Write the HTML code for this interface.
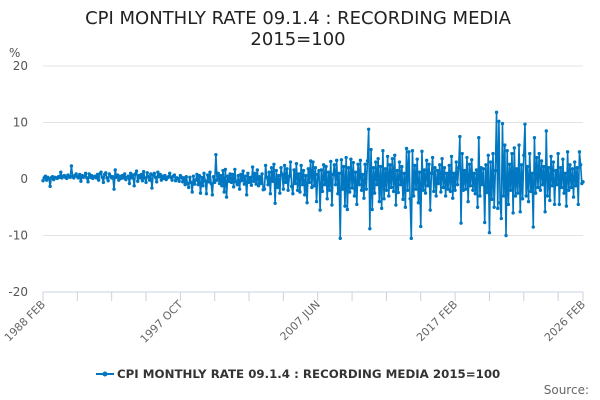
<!DOCTYPE html>
<html><head><meta charset="utf-8"><style>
body{margin:0;background:#fff;font-family:"DejaVu Sans","Liberation Sans",sans-serif}
svg{display:block}
svg text{font-family:"DejaVu Sans","Liberation Sans",sans-serif}
</style></head><body>
<svg id="chart" width="600" height="400">
<text x="298" y="24" text-anchor="middle" font-size="18" fill="#222">CPI MONTHLY RATE 09.1.4 : RECORDING MEDIA</text>
<text x="298" y="45" text-anchor="middle" font-size="18" fill="#222">2015=100</text>
<text x="9" y="57" font-size="12" fill="#555">%</text>
<g id="grid"></g><g id="xaxis"></g><g id="series"></g>
<g>
<line x1="96" y1="374" x2="114" y2="374" stroke="#0077c0" stroke-width="2"/>
<circle cx="105" cy="374" r="2.5" fill="#0077c0"/>
<text x="117" y="378" font-size="11.8" font-weight="bold" fill="#333">CPI MONTHLY RATE 09.1.4 : RECORDING MEDIA 2015=100</text>
</g>
<text x="589" y="394" text-anchor="end" font-size="12" fill="#666">Source:</text>
</svg>
<script>
const yTicks=[20,10,0,-10,-20];
const xLabelIdx=[0,116,232,348,456];
const xLabels=["1988 FEB","1997 OCT","2007 JUN","2017 FEB","2026 FEB"];
const values=[
-0.3,0.2,0.5,-0.2,0.3,0.1,-1.3,0.2,0.4,-0.1,0.3,
0.2,0.1,0.4,0.3,1.2,0.2,0.5,0.6,0.3,0.1,0.7,0.4,
0.3,2.3,0.5,0.2,0.6,0.9,0.4,0.2,0.8,-0.4,0.6,0.3,
0.5,1.0,0.2,-0.5,0.9,0.3,0.6,0.1,0.4,0.5,0.2,0.8,
-0.2,0.9,1.2,0.3,-0.6,0.8,1.1,0.2,-0.3,0.9,0.5,0.2,
0.4,-1.8,1.6,0.3,0.7,-0.2,0.5,0.1,0.6,0.2,0.9,-0.1,
0.3,0.5,-0.8,1.0,0.2,0.7,-1.2,0.9,1.4,-0.4,0.6,0.2,
0.8,-0.3,1.3,0.2,-0.6,1.1,0.4,-0.2,0.9,-1.6,0.7,1.0,
0.3,-0.5,1.2,0.4,0.8,-0.2,0.5,0.1,0.6,-0.1,0.2,0.4,
1.0,0.3,-0.2,0.5,0.7,-0.3,0.2,0.1,-0.4,0.6,0.3,-0.5,
0.2,-1.0,0.4,-0.8,-1.5,0.3,-0.6,-2.3,0.5,-0.9,-0.2,0.8,
-1.0,0.6,-2.5,0.3,-1.2,1.0,-0.4,-2.6,0.7,-0.5,1.2,-0.8,
-2.8,0.4,-0.6,4.3,-0.2,1.0,-0.8,0.6,-1.2,1.5,-2.3,1.7,
-3.2,0.5,-0.4,0.9,-0.6,0.8,-1.4,1.7,-0.5,-1.0,0.6,-1.8,
0.8,-0.3,1.4,-0.9,0.5,-2.8,1.0,-0.6,0.3,-1.1,2.1,-0.4,
1.0,-0.9,1.6,-1.2,0.4,-0.8,0.9,-1.9,-1.8,2.4,0.3,-1.0,
1.2,-2.6,2.0,-0.4,2.6,-4.3,1.5,-1.5,0.6,-2.5,2.0,0.8,
-1.8,2.4,-0.6,1.8,-2.0,0.5,3.0,-1.3,-2.6,1.6,-0.8,2.7,
-2.0,0.9,-2.3,2.4,-1.0,1.5,-2.8,0.6,-4.2,1.8,-0.6,3.2,
-1.5,3.0,-1.2,2.0,-4.0,0.8,1.5,-5.5,1.6,-2.2,2.5,-1.0,
2.2,-3.5,1.2,-2.0,3.1,-4.6,0.8,2.5,-1.0,3.3,-2.6,1.0,
-10.5,3.4,-1.8,2.2,-4.8,3.8,-5.4,2.0,-2.3,3.5,-1.6,2.9,
-3.0,1.2,-4.5,2.6,-1.0,3.3,-2.0,0.8,-3.4,2.6,-1.8,3.2,
8.8,-8.8,5.2,-5.4,2.0,-2.5,3.0,-1.0,3.6,-4.0,2.2,-5.2,
5.0,-3.5,1.8,-2.0,4.0,-3.0,2.5,-1.5,3.6,-2.2,4.2,-4.6,
1.5,-2.4,3.0,-1.0,2.2,-3.6,1.0,-5.0,5.4,-2.0,4.8,-3.5,
-10.5,5.0,-3.0,2.4,-1.8,3.5,-4.2,1.2,-8.4,4.9,-2.0,1.6,
-2.5,3.3,-1.2,2.6,-5.5,1.0,3.8,-2.2,2.0,-3.0,1.5,-0.8,
2.5,-2.3,3.6,-1.5,2.0,-3.0,1.0,-1.8,2.4,-2.2,4.0,-3.4,
1.0,-2.0,3.0,-1.0,2.0,7.5,-7.8,4.5,-2.0,1.5,-1.8,3.8,
-4.0,2.6,-1.2,3.4,-2.0,1.0,-2.6,1.6,-5.0,7.3,-3.0,2.0,
-1.0,1.8,-7.7,2.5,-2.4,4.2,-9.5,3.0,-3.6,4.5,-5.0,1.5,
11.8,-5.2,10.2,-4.2,-7.0,9.8,-3.0,6.0,-10.0,5.0,-4.5,2.6,
-2.0,4.5,-6.0,5.5,-3.0,1.8,-2.5,6.0,-5.8,2.5,-3.5,4.2,
9.7,-3.0,2.2,-4.0,4.5,-2.2,1.0,-8.5,7.3,-2.5,3.8,-1.5,
4.5,-2.0,3.2,-1.0,2.2,-5.8,8.5,-3.0,2.0,-3.8,4.0,-1.2,
3.0,-4.5,1.5,-1.0,4.5,-4.5,2.0,-1.5,3.5,-2.5,1.0,-4.8,
4.8,-2.0,2.5,-1.5,1.8,-3.2,3.0,-1.2,2.0,-4.5,4.8,2.5,
-0.8,-0.5
];
const NS="http://www.w3.org/2000/svg";
const X0=43,X1=583,Y0=66,Y1=292,YMAX=20,YMIN=-20;
const n=values.length;
function xs(i){return X0+(X1-X0)*i/(n-1);}
function ys(v){return Y0+(YMAX-v)/(YMAX-YMIN)*(Y1-Y0);}
function mk(tag,attrs,parent){const e=document.createElementNS(NS,tag);for(const k in attrs)e.setAttribute(k,attrs[k]);parent.appendChild(e);return e;}
const grid=document.getElementById('grid');
yTicks.forEach(t=>{
  const l=mk('line',{x1:X0,x2:X1,y1:ys(t),y2:ys(t),stroke:t===YMIN?'#c8d2e2':'#e3e3e3','stroke-width':1},grid);
  
  
  const tx=mk('text',{x:X0-15,y:ys(t)+4,'text-anchor':'end','font-size':12,fill:'#555'},grid);
  tx.textContent=t;
  
  
});
const xa=document.getElementById('xaxis');
for(let i=0;i<n;i+=29){
  const t=mk('line',{x1:xs(i),x2:xs(i),y1:Y1,y2:Y1+9,stroke:'#c8d2e2'},xa);
  
  
}
const te=mk('line',{x1:xs(n-1),x2:xs(n-1),y1:Y1,y2:Y1+9,stroke:'#c8d2e2'},xa);


xLabelIdx.forEach((idx,k)=>{
  const x=xs(idx)+3,y=Y1+13;
  const t=mk('text',{x:x,y:y,'text-anchor':'end','font-size':11,fill:'#666',transform:`rotate(-45 ${x} ${y})`},xa);
  t.textContent=xLabels[k];
  
  
});
const s=document.getElementById('series');
const pts=values.map((v,i)=>xs(i).toFixed(2)+','+ys(v).toFixed(2)).join(' ');
const pl=mk('polyline',{points:pts,fill:'none',stroke:'#0077c0','stroke-width':1.6,'stroke-linejoin':'round'},s);


values.forEach((v,i)=>{
  const c=mk('circle',{cx:xs(i),cy:ys(v),r:1.7,fill:'#0077c0'},s);
  
  
});
</script>
</body></html>
